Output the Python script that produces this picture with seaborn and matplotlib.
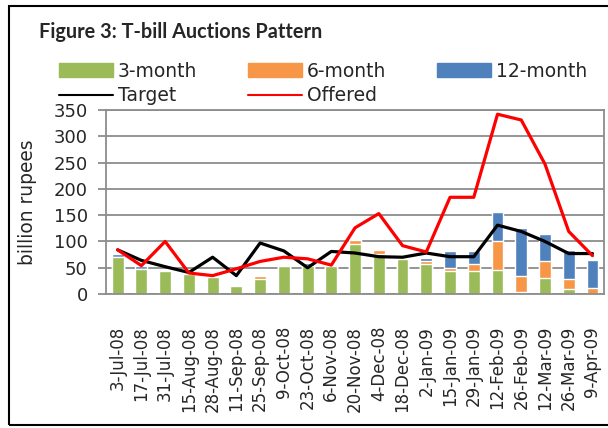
import numpy as np
import pandas as pd
import seaborn as sns
import matplotlib.pyplot as plt
from matplotlib.patches import Patch, Rectangle
from matplotlib.lines import Line2D

# auction dates
dates = ["3-Jul-08", "17-Jul-08", "31-Jul-08", "15-Aug-08", "28-Aug-08", "11-Sep-08",
         "25-Sep-08", "9-Oct-08", "23-Oct-08", "6-Nov-08", "20-Nov-08", "4-Dec-08",
         "18-Dec-08", "2-Jan-09", "15-Jan-09", "29-Jan-09", "12-Feb-09", "26-Feb-09",
         "12-Mar-09", "26-Mar-09", "9-Apr-09"]

# accepted amounts by tenor (billion rupees)
m3 = [70, 48, 43, 38, 33, 15, 28, 54, 54, 54, 96, 76, 67, 57, 43, 43, 46, 4, 31, 9, 0]
m6 = [0, 0, 0, 0, 0, 0, 7, 0, 0, 0, 7, 8, 0, 5, 7, 14, 54, 31, 31, 19, 12]
m12 = [6, 6, 0, 0, 0, 0, 0, 0, 5, 0, 0, 0, 0, 7, 31, 24, 56, 91, 53, 56, 53]

target = [84, 64, 52, 41, 70, 35, 97, 82, 50, 81, 78, 71, 70, 78, 71, 71, 131, 119, 100, 77, 77]
offered = [84, 54, 100, 40, 35, 48, 62, 70, 67, 55, 126, 153, 92, 80, 184, 184, 342, 331, 247, 119, 73]

df = pd.DataFrame({"date": dates, "m3": m3, "m6": m6, "m12": m12,
                   "target": target, "offered": offered})
# cumulative heights for stacking (draw tallest first)
df["s2"] = df["m3"] + df["m6"]
df["s3"] = df["s2"] + df["m12"]

green, orange, blue = "#9BBB59", "#F79646", "#4F81BD"
grid_col = "#8C8C8C"

sns.set_style("white")
plt.rcParams["font.family"] = ["DejaVu Sans"]

fig = plt.figure(figsize=(6.08, 4.28), dpi=100)
ax = fig.add_axes([0.174, 0.313, 0.82, 0.43])

sns.barplot(data=df, x="date", y="s3", color=blue, width=0.5, saturation=1, ax=ax, zorder=2)
sns.barplot(data=df, x="date", y="s2", color=orange, width=0.5, saturation=1, ax=ax, zorder=2)
sns.barplot(data=df, x="date", y="m3", color=green, width=0.5, saturation=1, ax=ax, zorder=2)

x = np.arange(len(dates))
sns.lineplot(x=x, y=df["target"], color="black", linewidth=2.3, ax=ax, zorder=3)
sns.lineplot(x=x, y=df["offered"], color="#FF0000", linewidth=2.3, ax=ax, zorder=4)

ax.set_xlim(-0.5, len(dates) - 0.5)
ax.set_ylim(0, 350)
ax.set_yticks(range(0, 351, 50))
ax.yaxis.grid(True, color=grid_col, linewidth=1.3, zorder=0)
ax.set_axisbelow(True)
for s in ax.spines.values():
    s.set_color(grid_col)
    s.set_linewidth(1.3)

ax.set_xticks(x)
ax.set_xticklabels(dates, rotation=90, fontsize=12)
ax.set_xticks(np.arange(-0.5, len(dates), 1), minor=True)
ax.tick_params(axis="x", which="major", length=0, pad=23)
ax.tick_params(axis="x", which="minor", length=5, width=1.3, color=grid_col)
ax.tick_params(axis="y", length=6, width=1.3, color=grid_col, labelsize=13, pad=7, left=True)
ax.set_xlabel("")
ax.set_ylabel("billion rupees", fontsize=13.4, labelpad=12)

fig.text(0.064, 0.925, "Figure 3: T-bill Auctions Pattern", fontsize=14.3,
         fontweight="bold", family=["Lato", "DejaVu Sans"], va="center")

handles = [Patch(color=green), Line2D([], [], color="black", linewidth=1.5),
           Patch(color=orange), Line2D([], [], color="#FF0000", linewidth=1.5),
           Patch(color=blue), Patch(visible=False)]
labels = ["3-month", "Target", "6-month", "Offered", "12-month", ""]
fig.legend(handles, labels, ncol=3, loc="upper left", bbox_to_anchor=(0.081, 0.878),
           frameon=False, fontsize=13.5, handlelength=2.9, handleheight=0.7,
           handletextpad=0.25, columnspacing=2.7, labelspacing=0.3, borderpad=0)

fig.patches.append(Rectangle((0.014, 0.007), 1.2, 0.98, transform=fig.transFigure,
                             fill=False, edgecolor="black", linewidth=1.5))

plt.savefig("out.png", dpi=100)
